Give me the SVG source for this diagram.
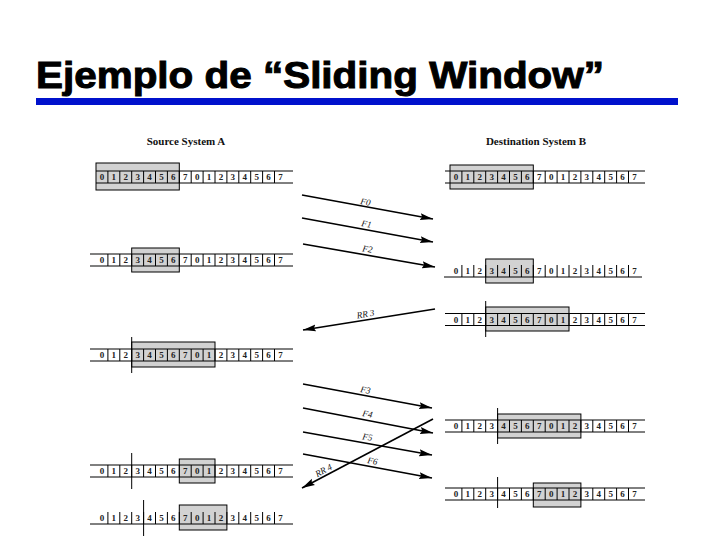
<svg xmlns="http://www.w3.org/2000/svg" xmlns:xlink="http://www.w3.org/1999/xlink" width="720" height="540" viewBox="0 0 720 540">
<style>
.title{font-family:"Liberation Sans",Arial,sans-serif;font-weight:bold;font-size:37px;fill:#000;stroke:#000;stroke-width:1}
.head{font-family:"Liberation Serif","Times New Roman",serif;font-weight:bold;font-size:11px;fill:#111;text-anchor:middle}
.dg{font-family:"Liberation Serif","Times New Roman",serif;font-weight:bold;font-size:9px;fill:#222;text-anchor:middle}
.ln{stroke:#000;stroke-width:1;fill:none}
.box{fill:#d2d2d2;stroke:#000;stroke-width:1}
.arr{stroke:#000;stroke-width:1.6;fill:none;marker-end:url(#ah)}
.lbl{font-family:"Liberation Serif","Times New Roman",serif;font-style:italic;font-size:9px;fill:#111;text-anchor:middle}
</style>
<defs>
<marker id="ah" markerUnits="userSpaceOnUse" markerWidth="14" markerHeight="8" refX="13" refY="4" orient="auto">
<path d="M0,0.5 L13,4 L0,7.5 L2,4 z" fill="#000"/>
</marker>
<g id="cells">
<path class="ln" d="M11.9 0v12M23.8 0v12M35.7 0v12M47.6 0v12M59.5 0v12M71.4 0v12M83.3 0v12M95.2 0v12M107.1 0v12M119 0v12M130.9 0v12M142.8 0v12M154.7 0v12M166.6 0v12M178.5 0v12"/>
<text class="dg" x="5.95 17.85 29.75 41.65 53.55 65.45 77.35 89.25 101.15 113.05 124.95 136.85 148.75 160.65 172.55 184.45" y="9">0123456701234567</text>
</g>
</defs>
<rect width="720" height="540" fill="#fff"/>
<g id="title">
<text class="title" x="36" y="88" textLength="568" lengthAdjust="spacingAndGlyphs">Ejemplo de “Sliding Window”</text>
<rect x="36" y="98" width="642" height="7" fill="#0011cc"/>
</g>
<g id="headA"><text class="head" x="186" y="145">Source System A</text></g>
<g id="headB"><text class="head" x="536" y="145">Destination System B</text></g>

<g id="srcRow1" transform="translate(96,171)">
<rect class="box" x="0" y="-8" width="83.3" height="27"/>
<path class="ln" d="M0 0H197M0 12H197"/>
<use href="#cells" xlink:href="#cells"/>
</g>
<g id="srcRow2" transform="translate(96,254)">
<rect class="box" x="35.7" y="-6" width="47.6" height="24"/>
<path class="ln" d="M-6 0H197M-6 12H197"/>
<use href="#cells" xlink:href="#cells"/>
</g>
<g id="srcRow3" transform="translate(96,349)">
<rect class="box" x="35.7" y="-7" width="83.3" height="25"/>
<path class="ln" d="M-6 0H197M-6 12H197M35.7 -12V24"/>
<use href="#cells" xlink:href="#cells"/>
</g>
<g id="srcRow4" transform="translate(96,465)">
<rect class="box" x="83.3" y="-6" width="35.7" height="24"/>
<path class="ln" d="M-6 0H197M-6 12H197M35.7 -12V24"/>
<use href="#cells" xlink:href="#cells"/>
</g>
<g id="srcRow5" transform="translate(96,512)">
<rect class="box" x="83.3" y="-7" width="47.6" height="25"/>
<path class="ln" d="M-6 12H197M47.6 -12V24"/>
<use href="#cells" xlink:href="#cells"/>
</g>

<g id="dstRow1" transform="translate(450,171)">
<rect class="box" x="0" y="-6" width="83.3" height="24"/>
<path class="ln" d="M-5 0H195M-5 12H195"/>
<use href="#cells" xlink:href="#cells"/>
</g>
<g id="dstRow2" transform="translate(450,265)">
<rect class="box" x="35.7" y="-6" width="47.6" height="24"/>
<path class="ln" d="M-6 12H192"/>
<use href="#cells" xlink:href="#cells"/>
</g>
<g id="dstRow3" transform="translate(450,313.5)">
<rect class="box" x="35.7" y="-6.5" width="83.3" height="24"/>
<path class="ln" d="M-5 0H195M-5 12H195M35.7 -12.5V23.5"/>
<use href="#cells" xlink:href="#cells"/>
</g>
<g id="dstRow4" transform="translate(450,420)">
<rect class="box" x="47.6" y="-6" width="83.3" height="24"/>
<path class="ln" d="M-5 0H195M-5 12H195M47.6 -12V24"/>
<use href="#cells" xlink:href="#cells"/>
</g>
<g id="dstRow5" transform="translate(450,488)">
<rect class="box" x="83.3" y="-5" width="47.6" height="24"/>
<path class="ln" d="M-5 0H195M-5 12H195M47.6 -11V20"/>
<use href="#cells" xlink:href="#cells"/>
</g>

<g id="connectors">
<line class="arr" x1="302" y1="195" x2="433" y2="219"/>
<line class="arr" x1="302" y1="218" x2="433" y2="242"/>
<line class="arr" x1="303" y1="244" x2="435" y2="267"/>
<line class="arr" x1="435" y1="309" x2="303" y2="330"/>
<line class="arr" x1="303" y1="384" x2="432" y2="408"/>
<line class="arr" x1="303" y1="408" x2="433" y2="433"/>
<line class="arr" x1="303" y1="432" x2="432" y2="455"/>
<line class="arr" x1="303" y1="454" x2="432" y2="478"/>
<line class="arr" x1="433" y1="419" x2="302" y2="488"/>
<text class="lbl" x="365" y="205" transform="rotate(10.5 365 205)">F0</text>
<text class="lbl" x="366" y="227" transform="rotate(10.5 366 227)">F1</text>
<text class="lbl" x="367" y="252" transform="rotate(10 367 252)">F2</text>
<text class="lbl" x="366" y="317" transform="rotate(-9 366 317)">RR 3</text>
<text class="lbl" x="365" y="393" transform="rotate(10.5 365 393)">F3</text>
<text class="lbl" x="367" y="417" transform="rotate(10.5 367 417)">F4</text>
<text class="lbl" x="367" y="440" transform="rotate(10 367 440)">F5</text>
<text class="lbl" x="372" y="464" transform="rotate(10.5 372 464)">F6</text>
<text class="lbl" x="325" y="473" transform="rotate(-27.8 325 473)">RR 4</text>
</g>
</svg>
